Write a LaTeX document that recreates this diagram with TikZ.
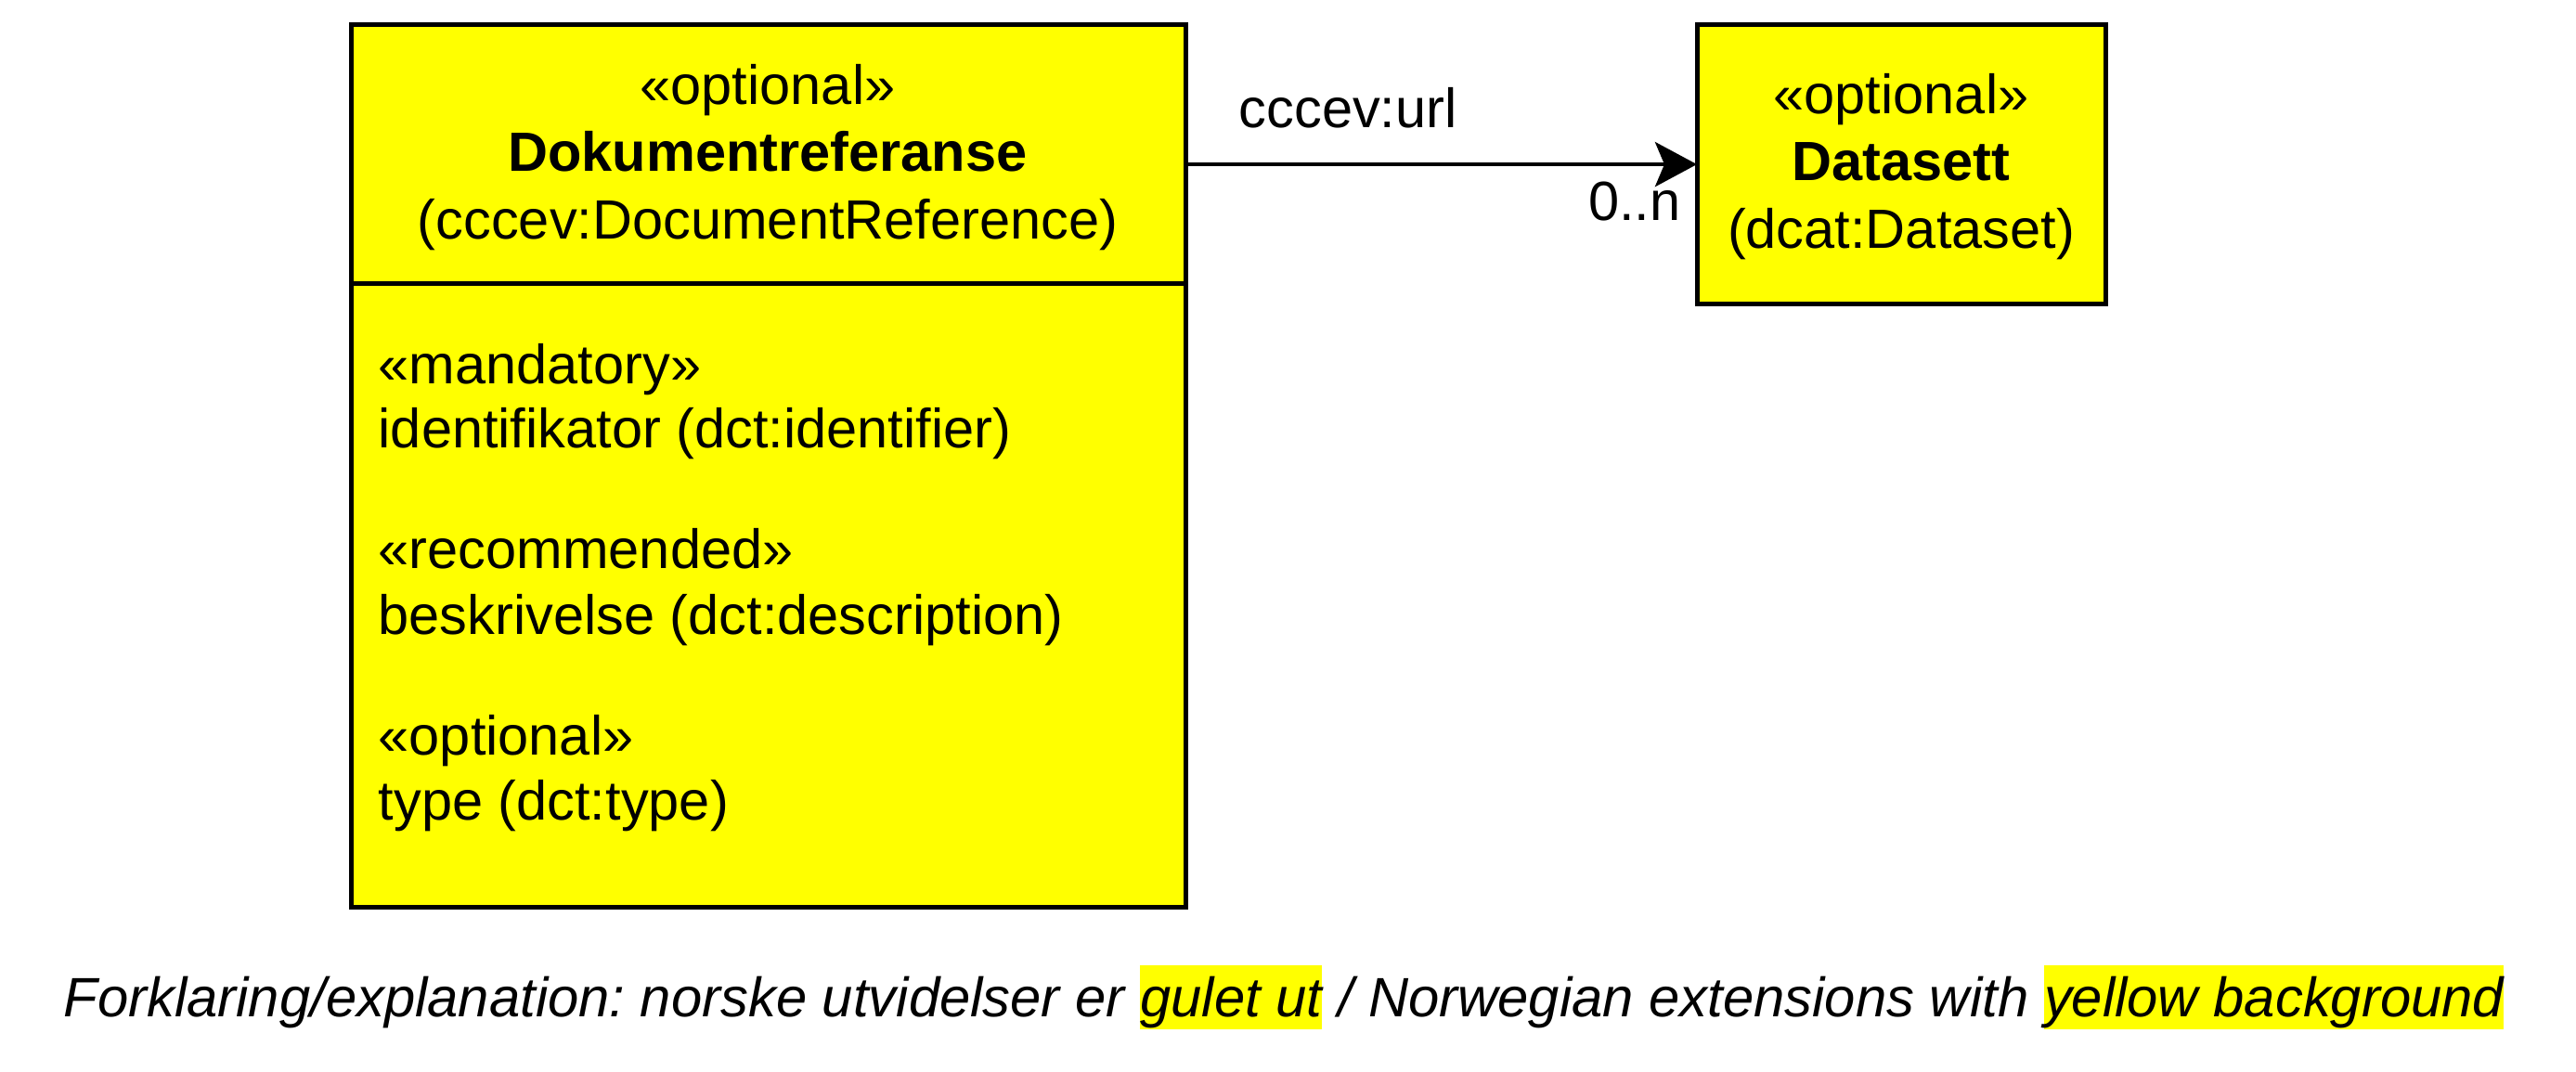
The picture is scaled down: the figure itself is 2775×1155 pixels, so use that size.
\documentclass[tikz,border=0pt]{standalone}
\usepackage{fontspec}
\setmainfont{Liberation Sans}
\usetikzlibrary{arrows.meta}
\definecolor{umlyellow}{RGB}{255,255,0}
\newcommand\hlbox[1]{{\setlength{\fboxsep}{0pt}\colorbox{umlyellow}{\rule[-0.14cm]{0pt}{0.69cm}#1}}}
\frenchspacing
\begin{document}
\begin{tikzpicture}[x=0.01cm,y=-0.01cm,font=\fontsize{16.93pt}{20pt}\selectfont]
\tikzset{
  umlbox/.style={draw, line width=0.05cm, fill=umlyellow, inner sep=0, outer sep=0},
  lbl/.style={anchor=base, inner sep=0},
  attr/.style={anchor=base west, inner sep=0},
  conn/.style={line width=0.045cm, -{Stealth[length=0.45cm,width=0.48cm,inset=0.1cm]}}
}
\useasboundingbox (0,0) rectangle (2775,1155);
\fill[white] (0,0) rectangle (2775,1155);
% boxes
\node[umlbox, minimum width=8.99cm, minimum height=9.5cm, anchor=north west] (main) at (378,27) {};
\node[umlbox, minimum width=4.4cm, minimum height=3cm, anchor=north west] (ds) at (1828,27) {};
\coordinate (sep) at (0,306);
\draw[line width=0.05cm] (main.west |- sep) -- (main.east |- sep);
% header texts
\node[lbl] (m1) at (827,113) {«optional»};
\node[lbl] (m2) at (827,185) {\bfseries Dokumentreferanse};
\node[lbl] (m3) at (827,258) {(cccev:DocumentReference)};
\node[lbl] (d1) at (2048,123) {«optional»};
\node[lbl] (d2) at (2048,195) {\bfseries Datasett};
\node[lbl] (d3) at (2048,268) {(dcat:Dataset)};
% attributes
\node[attr] (a1) at (407,414) {«mandatory»};
\node[attr] (a2) at (407,483) {identifikator (dct:identifier)};
\node[attr] (a3) at (407,613) {«recommended»};
\node[attr] (a4) at (407,683) {beskrivelse (dct:description)};
\node[attr] (a5) at (407,813) {«optional»};
\node[attr] (a6) at (407,883) {type (dct:type)};
% connector
\draw[conn] (main.east |- ds.west) -- (ds.west);
\node[attr] (url) at (1334,138) {cccev:url};
\node[anchor=base east, inner sep=0] (mult) at (1811,238) {0..n};
% caption
\node[attr, font=\fontsize{17.0pt}{20pt}\selectfont] (cap) at (68,1095) {\itshape Forklaring/explanation: norske utvidelser er \hlbox{gulet ut} / Norwegian extensions with \hlbox{yellow background}};
\end{tikzpicture}
\end{document}
